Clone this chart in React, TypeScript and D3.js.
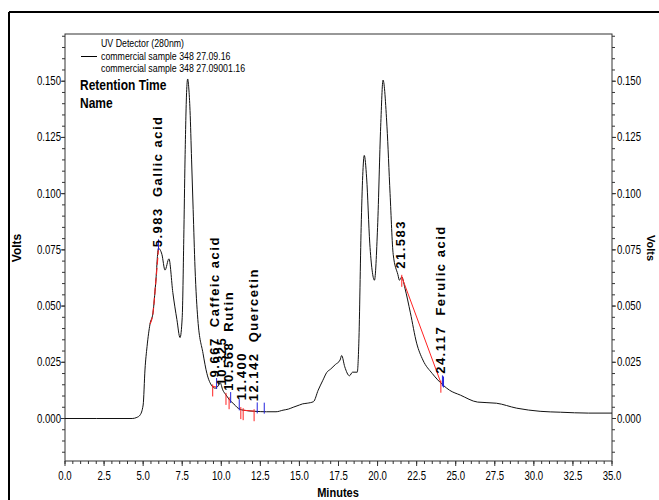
import React from 'react';
import * as d3 from 'd3';

// chromatogram trace (minutes, volts)
const times = [0, 2, 4.3, 4.6, 4.8, 5.0, 5.12, 5.25, 5.44, 5.63, 5.8, 5.983, 6.2, 6.4, 6.65, 6.9, 7.16, 7.36, 7.5, 7.6, 7.68, 7.78, 7.85, 7.92, 8.0, 8.1, 8.2, 8.32, 8.5, 8.83, 9.08, 9.4, 9.6, 9.8, 9.92, 10.1, 10.3, 10.56, 10.8, 11.0, 11.4, 12.15, 12.9, 13.5, 13.95, 14.3, 14.6, 15.0, 15.2, 15.5, 15.9, 16.2, 16.5, 16.75, 17.0, 17.3, 17.6, 17.7, 17.9, 18.2, 18.4, 18.7, 18.8, 18.95, 19.05, 19.15, 19.3, 19.5, 19.65, 19.8, 20.0, 20.2, 20.35, 20.6, 20.8, 21.0, 21.3, 21.4, 21.55, 21.75, 22.1, 22.5, 22.9, 23.5, 24.2, 24.6, 25.3, 26.4, 27.6, 28.9, 30.4, 31.7, 33.5, 35];
const volts = [0, 0, 0, 0.0005, 0.0015, 0.006, 0.022, 0.032, 0.042, 0.047, 0.06, 0.0757, 0.073, 0.066, 0.071, 0.056, 0.044, 0.036, 0.045, 0.08, 0.115, 0.145, 0.151, 0.147, 0.137, 0.115, 0.093, 0.067, 0.044, 0.029, 0.02, 0.0145, 0.0135, 0.0145, 0.016, 0.0126, 0.0105, 0.008, 0.0065, 0.005, 0.0037, 0.0032, 0.003, 0.003, 0.0037, 0.0042, 0.005, 0.006, 0.0065, 0.0068, 0.0075, 0.0126, 0.017, 0.0205, 0.022, 0.024, 0.026, 0.028, 0.023, 0.019, 0.0206, 0.0206, 0.0335, 0.085, 0.108, 0.117, 0.107, 0.078, 0.066, 0.0615, 0.085, 0.13, 0.1505, 0.13, 0.1, 0.073, 0.064, 0.0615, 0.063, 0.058, 0.047, 0.0335, 0.026, 0.02, 0.0148, 0.0126, 0.0104, 0.0073, 0.0068, 0.0046, 0.0032, 0.0028, 0.0024, 0.0024];

// peak labels
const peakTimes = ['5.983', '9.667', '10.325', '10.568', '11.400', '12.142', '21.583', '24.117'];
const peakNames = ['Gallic acid', 'Caffeic acid', '', 'Rutin', '', 'Quercetin', '', 'Ferulic acid'];

// integration event marks
const redMarks = [9.45, 10.3, 10.5, 11.25, 11.4, 12.1, 21.55, 24.05];
const blueMarks = [5.983, 9.7, 10.6, 11.15, 12.3, 12.75, 24.15, 24.22];
const baseStart = [9.45, 11.4, 21.55];
const baseEnd = [9.7, 12.1, 24.05];

const xTicks = d3.range(0, 35.01, 2.5);
const yTicks = [0, 0.025, 0.05, 0.075, 0.1, 0.125, 0.15];

const legendLines = ['UV Detector (280nm)', 'commercial sample 348 27.09.16', 'commercial sample 348 27.09001.16'];

const W = 659;
const H = 500;
const left = 65;
const right = 612;
const top = 34;
const bottom = 461;

const sans = "'Liberation Sans', Arial, sans-serif";

// condensed text (Arial Narrow look), squeezed horizontally
const Narrow = ({ x, y, anchor = 'start', size = 12, sx = 0.8, weight = 'normal', children }: any) => (
  <text transform={`translate(${x},${y}) scale(${sx},1)`} textAnchor={anchor} fontFamily={sans}
    fontSize={size} fontWeight={weight}>{children}</text>
);

export default function App() {
  const x = d3.scaleLinear().domain([0, 35]).range([left, right]);
  const y = d3.scaleLinear().domain([-0.0189, 0.171]).range([bottom, top]);

  const pts = times.map((t, i) => [t, volts[i]] as [number, number]);
  const at = (t: number) => {
    const i = d3.bisector((d: number) => d).right(times, t);
    if (i <= 0) return volts[0];
    if (i >= times.length) return volts[volts.length - 1];
    const f = (t - times[i - 1]) / (times[i] - times[i - 1]);
    return volts[i - 1] + f * (volts[i] - volts[i - 1]);
  };

  const line = d3.line<[number, number]>()
    .x(d => x(d[0]))
    .y(d => y(d[1]))
    .curve(d3.curveMonotoneX);

  const gallicRed = line(pts.filter(d => d[0] >= 5.44 && d[0] <= 5.983));

  const xMinor = d3.range(0, 35.01, 0.5);
  const yMinor = d3.range(-0.015, 0.1701, 0.005);

  return (
    <svg width={W} height={H} style={{ position: 'absolute', left: 0, top: 0, background: '#fff' }}>
      {/* outer frame */}
      <line x1={9} y1={12} x2={W} y2={12} stroke="#000" strokeWidth={2} />
      <line x1={9} y1={12} x2={9} y2={H} stroke="#000" strokeWidth={2} />

      {/* plot frame */}
      <rect x={left} y={top} width={right - left} height={bottom - top} fill="none" stroke="#333" strokeWidth={1} />

      {/* y ticks */}
      {yMinor.map((v, i) => (
        <g key={'ym' + i}>
          <line x1={left - 3} x2={left} y1={y(v)} y2={y(v)} stroke="#333" />
          <line x1={right} x2={right + 3} y1={y(v)} y2={y(v)} stroke="#333" />
        </g>
      ))}
      {yTicks.map(v => (
        <g key={'y' + v}>
          <line x1={left - 4} x2={left} y1={y(v)} y2={y(v)} stroke="#333" />
          <line x1={right} x2={right + 4} y1={y(v)} y2={y(v)} stroke="#333" />
          <Narrow x={left - 4} y={y(v) + 4} anchor="end">{v.toFixed(3)}</Narrow>
          <Narrow x={right + 5} y={y(v) + 4}>{v.toFixed(3)}</Narrow>
        </g>
      ))}

      {/* x ticks */}
      {xMinor.map((t, i) => (
        <line key={'xm' + i} x1={x(t)} x2={x(t)} y1={bottom} y2={bottom + 3} stroke="#333" />
      ))}
      {xTicks.map(t => (
        <g key={'x' + t}>
          <line x1={x(t)} x2={x(t)} y1={bottom} y2={bottom + 5} stroke="#333" />
          <Narrow x={x(t)} y={bottom + 19} anchor="middle">{t.toFixed(1)}</Narrow>
        </g>
      ))}

      {/* axis titles */}
      <text transform={`translate(21,248) rotate(-90)`} textAnchor="middle" fontFamily={sans} fontWeight="bold" fontSize={12}>Volts</text>
      <text transform={`translate(647,248) rotate(90)`} textAnchor="middle" fontFamily={sans} fontWeight="bold" fontSize={11}>Volts</text>
      <Narrow x={338} y={497} anchor="middle" size={13} sx={0.85} weight="bold">Minutes</Narrow>

      {/* legend */}
      <Narrow x={101} y={47} size={10} sx={0.88}>{legendLines[0]}</Narrow>
      <line x1={81} x2={97} y1={56.5} y2={56.5} stroke="#000" />
      <Narrow x={101} y={60} size={10} sx={0.88}>{legendLines[1]}</Narrow>
      <Narrow x={101} y={72} size={10} sx={0.88}>{legendLines[2]}</Narrow>
      <Narrow x={80} y={90} size={15} sx={0.8} weight="bold">Retention Time</Narrow>
      <Narrow x={80} y={108} size={15} sx={0.8} weight="bold">Name</Narrow>

      {/* trace */}
      <path d={line(pts) || ''} fill="none" stroke="#111" strokeWidth={1} />

      {/* integration baselines */}
      <path d={gallicRed || ''} fill="none" stroke="#e22" strokeWidth={1.2} strokeDasharray="7,3" />
      {baseStart.map((t, i) => (
        <line key={'b' + i} x1={x(t)} y1={y(at(t))} x2={x(baseEnd[i])} y2={y(at(baseEnd[i]))} stroke="#f22" strokeWidth={1} />
      ))}
      {redMarks.map((t, i) => (
        <line key={'r' + i} x1={x(t)} x2={x(t)} y1={y(at(t)) - 2} y2={y(at(t)) + 10} stroke="#f22" strokeWidth={1} />
      ))}
      {blueMarks.map((t, i) => (
        <line key={'u' + i} x1={x(t)} x2={x(t)} y1={y(at(t)) - 9} y2={y(at(t)) + 2} stroke="#22d" strokeWidth={1} />
      ))}

      {/* peak labels */}
      {peakTimes.map((s, i) => {
        const t = +s;
        const off = i === 0 ? 1 : 10;
        const px = x(t) + 3 - (i === 2 ? 3 : 0);
        const py = y(at(t)) - off;
        return (
          <text key={'p' + i} transform={`translate(${px},${py}) rotate(-90)`} fontFamily={sans} fontWeight="bold"
            fontSize={13} letterSpacing={1.5} style={{ whiteSpace: 'pre' }}>
            {peakNames[i] ? `${s}  ${peakNames[i]}` : s}
          </text>
        );
      })}
    </svg>
  );
}
